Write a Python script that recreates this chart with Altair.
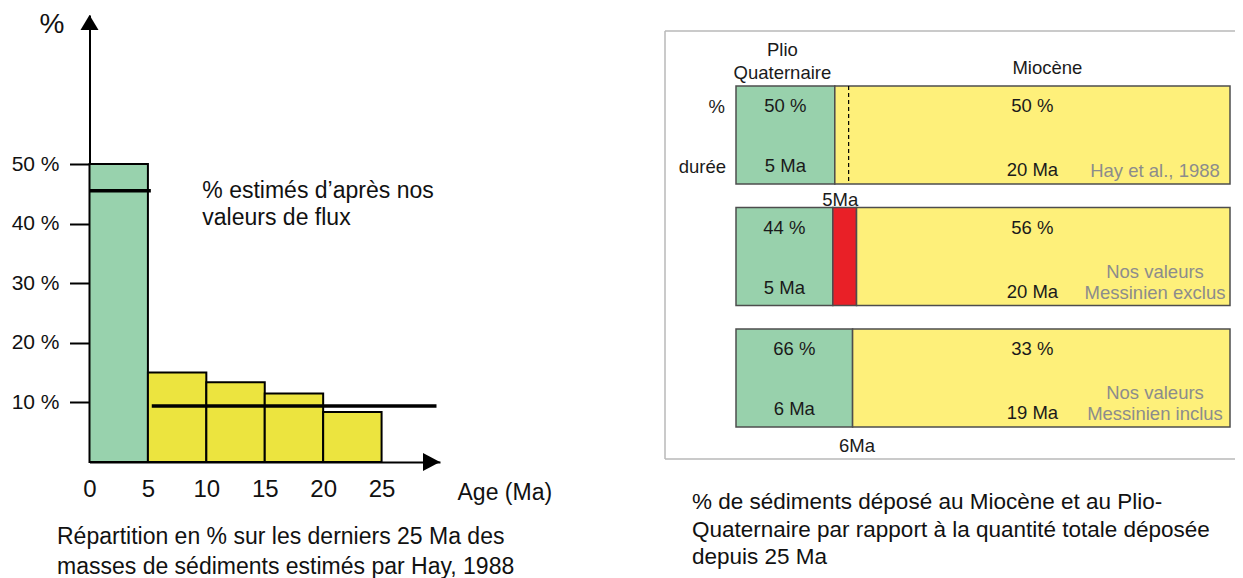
import altair as alt
import pandas as pd

FONT = "Liberation Sans"

# ---------------- Left panel : sediment mass distribution (Hay, 1988) ----------------
age_start = [0, 5, 10, 15, 20]
age_end = [5, 10, 15, 20, 25]
sed_pct = [50, 15, 13.4, 11.5, 8.4]
sed_period = ["Plio-Quaternaire", "Miocène", "Miocène", "Miocène", "Miocène"]

# % estimated from our flux values (black horizontal lines)
est_start = [0, 5.33]
est_end = [5.25, 29.7]
est_pct = [45.5, 9.4]

y_ticks = [10, 20, 30, 40, 50]
x_ticks = [0, 5, 10, 15, 20, 25]
age_max = 30
pct_max = 75

annot_lines = ["% estimés d’après nos", "valeurs de flux"]
annot_age = 10
left_caption = ["Répartition en % sur les derniers 25 Ma des",
                "masses de sédiments estimés par Hay, 1988"]

# ---------------- Right panel : Miocene vs Plio-Quaternary ----------------
rows = ["Hay et al., 1988", "Nos valeurs Messinien exclus", "Nos valeurs Messinien inclus"]
plio_end = [5, 4.9, 5.9]
messinien_end = [None, 6.1, None]
total_span = 25
plio_pct = [50, 44, 66]
mio_pct = [50, 56, 33]
plio_dur = [5, 5, 6]
mio_dur = [20, 20, 19]
note_top = ["", "Nos valeurs", "Nos valeurs"]
note_bottom = ["Hay et al., 1988", "Messinien exclus", "Messinien inclus"]
dashed_age = 5.7
right_caption = ["% de sédiments déposé au Miocène et au Plio-",
                 "Quaternaire par rapport à la quantité totale déposée",
                 "depuis 25 Ma"]

# ---------------- tables ----------------
hist = pd.DataFrame({"start": age_start, "end": age_end, "pct": sed_pct, "period": sed_period})
est = pd.DataFrame({"start": est_start, "end": est_end, "pct": est_pct})
annot = pd.DataFrame({"start": [annot_age], "pct": [est_pct[0]]})
arrows = pd.DataFrame({"start": [0, age_max], "pct": [pct_max, 0], "dir": ["up", "right"]})

seg_rows = []
for i, r in enumerate(rows):
    seg_rows.append({"row": r, "x0": 0, "x1": plio_end[i], "segment": "Plio-Quaternaire"})
    if messinien_end[i] is not None:
        seg_rows.append({"row": r, "x0": plio_end[i], "x1": messinien_end[i], "segment": "Messinien"})
        seg_rows.append({"row": r, "x0": messinien_end[i], "x1": total_span, "segment": "Miocène"})
    else:
        seg_rows.append({"row": r, "x0": plio_end[i], "x1": total_span, "segment": "Miocène"})
seg = pd.DataFrame(seg_rows)

mio_mid = (plio_end[0] + total_span) / 2
lab = pd.DataFrame({
    "row": rows,
    "plio_mid": [e / 2 for e in plio_end],
    "mio_mid": [mio_mid] * len(rows),
    "end": [total_span] * len(rows),
    "plio_pct_t": [f"{v} %" for v in plio_pct],
    "mio_pct_t": [f"{v} %" for v in mio_pct],
    "plio_dur_t": [f"{v} Ma" for v in plio_dur],
    "mio_dur_t": [f"{v} Ma" for v in mio_dur],
    "note_top": note_top,
    "note_bottom": note_bottom,
    "bound_t": [f"{v}Ma" for v in plio_dur],
    "bound_x": plio_end,
})
dash = pd.DataFrame({"row": [rows[0]], "x0": [dashed_age]})

# ---------------- left chart ----------------
XL = alt.Scale(domain=[0, age_max], range=[81.5, 432])
YL = alt.Scale(domain=[0, pct_max], range=[454, 7])

x_axis = alt.Axis(values=x_ticks, title="Age (Ma)", orient="bottom", offset=-116,
                  ticks=False, tickSize=0, labelPadding=15, labelFontSize=24,
                  labelFlush=False, labelOverlap=False, grid=False,
                  domainColor="black", domainWidth=2, labelColor="#111",
                  titleX=449, titleY=30, titleAlign="left", titleBaseline="middle",
                  titleFontSize=23, titleFontWeight="normal", titleColor="#111")
y_axis = alt.Axis(values=y_ticks, labelExpr="datum.value + ' %'", title="%", orient="left",
                  offset=-81.5, tickSize=20, tickWidth=2, tickColor="black",
                  domainColor="black", domainWidth=2, labelPadding=10.5,
                  labelFontSize=21, labelColor="#111", labelFlush=False, grid=False,
                  titleAngle=0, titleX=-38, titleY=24, titleAlign="center",
                  titleBaseline="alphabetic", titleFontSize=28,
                  titleFontWeight="normal", titleColor="#111")

bars_l = alt.Chart(hist).mark_rect(stroke="black", strokeWidth=2).encode(
    x=alt.X("start:Q", scale=XL, axis=x_axis),
    x2="end:Q",
    y=alt.Y("pct:Q", scale=YL, axis=y_axis),
    y2=alt.datum(0),
    color=alt.Color("period:N",
                    scale=alt.Scale(domain=["Plio-Quaternaire", "Miocène"],
                                    range=["#98D2AD", "#ECE43F"]),
                    legend=None),
)
est_l = alt.Chart(est).mark_rule(color="black", strokeWidth=3.5).encode(
    x=alt.X("start:Q", scale=XL), x2="end:Q", y=alt.Y("pct:Q", scale=YL))
annot_l = alt.Chart(annot).mark_text(
    text=annot_lines, align="left", baseline="middle", dx=-4,
    fontSize=23, lineHeight=27, color="#111").encode(
    x=alt.X("start:Q", scale=XL), y=alt.Y("pct:Q", scale=YL))
UP = "M0,0L1,1.667L-1,1.667Z"
RIGHT = "M0,0L-1.889,-1L-1.889,1Z"
arrows_l = alt.Chart(arrows).mark_point(filled=True, color="black", opacity=1,
                                        size=324, strokeWidth=0).encode(
    x=alt.X("start:Q", scale=XL), y=alt.Y("pct:Q", scale=YL),
    shape=alt.Shape("dir:N", scale=alt.Scale(domain=["up", "right"], range=[UP, RIGHT]),
                    legend=None))
left = alt.layer(bars_l, est_l, annot_l, arrows_l)

# ---------------- right chart ----------------
XR = alt.Scale(domain=[0, total_span], range=[728, 1222])
YR = alt.Scale(domain=rows, range=[78, 419], paddingInner=0.193, paddingOuter=0)
yr = alt.Y("row:N", scale=YR, axis=None)
TXT = dict(fontSize=18.5, color="#1a1a1a")
GRAY = dict(fontSize=18.5, color="#8c8c8c")

bars_r = alt.Chart(seg).mark_bar(stroke="#4d4d4d", strokeWidth=1.5).encode(
    x=alt.X("x0:Q", scale=XR, axis=None), x2="x1:Q", y=yr,
    color=alt.Color("segment:N",
                    scale=alt.Scale(domain=["Plio-Quaternaire", "Messinien", "Miocène"],
                                    range=["#98D1AC", "#E92027", "#FEF07A"]),
                    legend=None))
dash_r = alt.Chart(dash).mark_rule(color="black", strokeDash=[4, 3], strokeWidth=1.2).encode(
    x=alt.X("x0:Q", scale=XR, axis=None),
    y=alt.Y("row:N", scale=YR, axis=None, bandPosition=0),
    y2=alt.Y2("row", bandPosition=1))

base = alt.Chart(lab)
t_pp = base.mark_text(dy=-29, **TXT).encode(x=alt.X("plio_mid:Q", scale=XR, axis=None), y=yr, text="plio_pct_t:N")
t_mp = base.mark_text(dy=-29, **TXT).encode(x=alt.X("mio_mid:Q", scale=XR, axis=None), y=yr, text="mio_pct_t:N")
t_pd = base.mark_text(dy=31, **TXT).encode(x=alt.X("plio_mid:Q", scale=XR, axis=None), y=yr, text="plio_dur_t:N")
t_md = base.mark_text(dy=35, **TXT).encode(x=alt.X("mio_mid:Q", scale=XR, axis=None), y=yr, text="mio_dur_t:N")
t_n1 = base.mark_text(dy=15, dx=-75, **GRAY).encode(x=alt.X("end:Q", scale=XR, axis=None), y=yr, text="note_top:N")
t_n2 = base.mark_text(dy=36, dx=-75, **GRAY).encode(x=alt.X("end:Q", scale=XR, axis=None), y=yr, text="note_bottom:N")

first = lab[lab["row"] == rows[0]].assign(zero=0)
last = lab[lab["row"] == rows[-1]]
t_pct_lbl = alt.Chart(first).mark_text(text="%", align="right", dx=-11, dy=-28, **TXT).encode(
    x=alt.X("zero:Q", scale=XR, axis=None), y=yr)
t_dur_lbl = alt.Chart(first).mark_text(text="durée", align="right", dx=-10, dy=32, **TXT).encode(
    x=alt.X("zero:Q", scale=XR, axis=None), y=yr)
t_h1 = alt.Chart(first).mark_text(text=["Plio", "Quaternaire"], lineHeight=23, baseline="middle",
                                  dx=-3, dy=-85, **TXT).encode(
    x=alt.X("plio_mid:Q", scale=XR, axis=None), y=yr)
t_h2 = alt.Chart(first).mark_text(text="Miocène", dx=15, dy=-67, **TXT).encode(
    x=alt.X("mio_mid:Q", scale=XR, axis=None), y=yr)
t_b1 = alt.Chart(first).mark_text(dx=5.5, dy=65, **TXT).encode(
    x=alt.X("bound_x:Q", scale=XR, axis=None), y=yr, text="bound_t:N")
t_b3 = alt.Chart(last).mark_text(dx=4.5, dy=68, **TXT).encode(
    x=alt.X("bound_x:Q", scale=XR, axis=None), y=yr, text="bound_t:N")

right = alt.layer(bars_r, dash_r, t_pp, t_mp, t_pd, t_md, t_n1, t_n2,
                  t_pct_lbl, t_dur_lbl, t_h1, t_h2, t_b1, t_b3)

# ---------------- frame and captions ----------------
one = pd.DataFrame({"k": [0]})
FR = dict(color="#b8b8b8", strokeWidth=1.5)
f_top = alt.Chart(one).mark_rule(**FR).encode(x=alt.value(657), x2=alt.value(1227), y=alt.value(23))
f_bot = alt.Chart(one).mark_rule(**FR).encode(x=alt.value(657), x2=alt.value(1227), y=alt.value(451))
f_left = alt.Chart(one).mark_rule(**FR).encode(x=alt.value(657), y=alt.value(23), y2=alt.value(451))
cap_l = alt.Chart(one).mark_text(text=left_caption, align="left", baseline="middle",
                                 lineHeight=30, fontSize=23, color="#111").encode(
    x=alt.value(49), y=alt.value(529))
cap_r = alt.Chart(one).mark_text(text=right_caption, align="left", baseline="middle",
                                 lineHeight=27.5, fontSize=22.5, color="#111").encode(
    x=alt.value(684), y=alt.value(494))

chart = alt.layer(left, right, f_top, f_bot, f_left, cap_l, cap_r).resolve_scale(
    x="independent", y="independent", color="independent", shape="independent"
).properties(
    width=1227, height=570, autosize=alt.AutoSizeParams(type="none"), padding=0
).configure(font=FONT).configure_view(stroke=None)

chart.save("out.html", embed_options={"renderer": "svg", "actions": False})
